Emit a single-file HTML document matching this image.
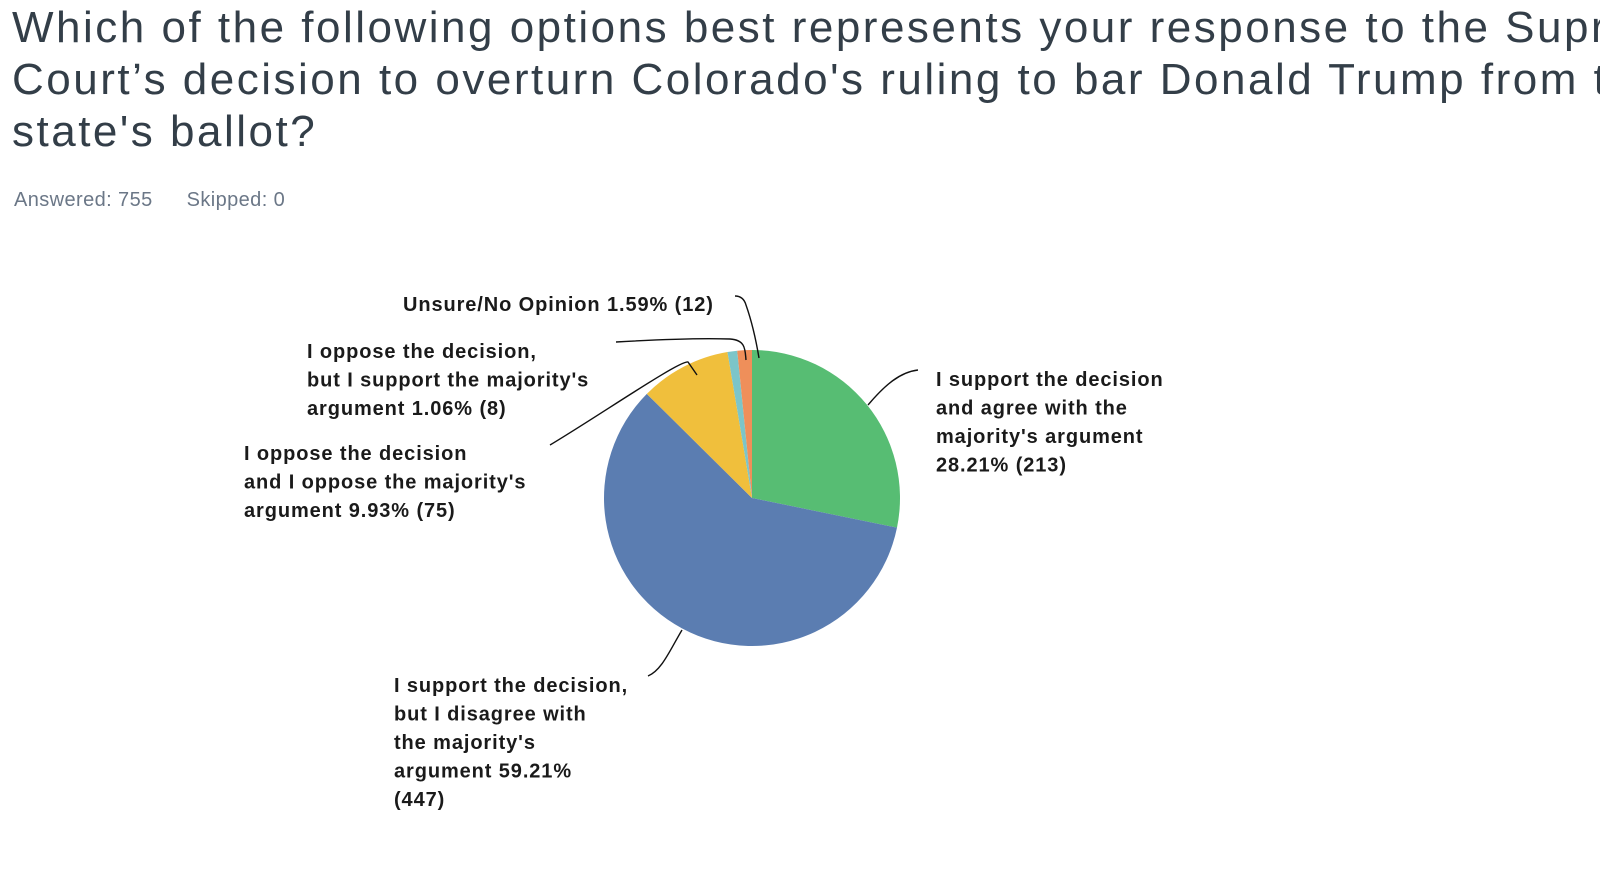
<!DOCTYPE html>
<html><head><meta charset="utf-8">
<style>
body{margin:0;background:#fff;width:1600px;height:876px;overflow:hidden;font-family:"Liberation Sans",sans-serif;}
#title{position:absolute;left:12px;top:2px;font-size:44px;line-height:52px;color:#333e48;font-weight:normal;letter-spacing:2.5px;margin:0;white-space:nowrap;}
#meta{position:absolute;left:14px;top:189px;font-size:20px;color:#6b7787;letter-spacing:0.4px;}
#meta span{margin-right:34px;}
svg{position:absolute;left:0;top:0;}
.lbl{font-size:20px;font-weight:bold;fill:#1a1a1a;letter-spacing:0.9px;}
</style></head><body>
<h1 id="title">Which of the following options best represents your response to the Supreme<br>Court’s decision to overturn Colorado's ruling to bar Donald Trump from the<br>state's ballot?</h1>
<div id="meta"><span>Answered: 755</span><span>Skipped: 0</span></div>
<svg id="chart" width="1600" height="876"></svg>
<script>
const categories=["I support the decision and agree with the majority's argument","I support the decision, but I disagree with the majority's argument","I oppose the decision and I oppose the majority's argument","I oppose the decision, but I support the majority's argument","Unsure/No Opinion"];
const percents=[28.21,59.21,9.93,1.06,1.59];
const counts=[213,447,75,8,12];
const colors=["#57bd73","#5b7db1","#f0bf3c","#7cc5c9","#ef8f5a"];
const labelLines=[
 ["I support the decision","and agree with the","majority's argument","{p}% ({c})"],
 ["I support the decision,","but I disagree with","the majority's","argument {p}%","({c})"],
 ["I oppose the decision","and I oppose the majority's","argument {p}% ({c})"],
 ["I oppose the decision,","but I support the majority's","argument {p}% ({c})"],
 ["Unsure/No Opinion {p}% ({c})"]
];
const labelPos=[[936,386],[394,692],[244,460],[307,358],[403,311]];
const leaders=[
 "M868,405 C885,385 900,372 918,370",
 "M682,630 C670,650 662,670 648,676",
 "M697,375 L688,362 C680,360 600,415 550,445",
 "M746,360 C745,350 746,340 730,339 C700,338 650,340 616,342",
 "M759,358 C756,340 752,322 746,305 C744,298 740,296 735,296"
];
const NS="http://www.w3.org/2000/svg";
const svg=document.getElementById('chart');
const cx=752,cy=498,r=148;
const total=percents.reduce((a,b)=>a+b,0);
function pt(a,rr){return [cx+rr*Math.sin(a),cy-rr*Math.cos(a)];}
let a0=0;
percents.forEach((p,i)=>{
 const a1=a0+p/total*2*Math.PI;
 const [x0,y0]=pt(a0,r),[x1,y1]=pt(a1,r);
 const large=(a1-a0)>Math.PI?1:0;
 const path=document.createElementNS(NS,'path');
 path.setAttribute('d',`M${cx},${cy} L${x0},${y0} A${r},${r} 0 ${large} 1 ${x1},${y1} Z`);
 path.setAttribute('fill',colors[i]);
 
 
 svg.appendChild(path);
 a0=a1;
});
leaders.forEach((d,i)=>{
 const l=document.createElementNS(NS,'path');
 l.setAttribute('d',d);l.setAttribute('fill','none');l.setAttribute('stroke','#111');l.setAttribute('stroke-width','1.4');
 
 
 svg.appendChild(l);
});
labelLines.forEach((lines,i)=>{
 const t=document.createElementNS(NS,'text');
 t.setAttribute('class','lbl');
 
 
 lines.forEach((s,j)=>{
  const ts=document.createElementNS(NS,'tspan');
  ts.setAttribute('x',labelPos[i][0]);
  ts.setAttribute('y',labelPos[i][1]+j*28.5);
  ts.textContent=s.replace('{p}',percents[i].toFixed(2)).replace('{c}',counts[i]);
  t.appendChild(ts);
 });
 svg.appendChild(t);
});
</script>
</body></html>
